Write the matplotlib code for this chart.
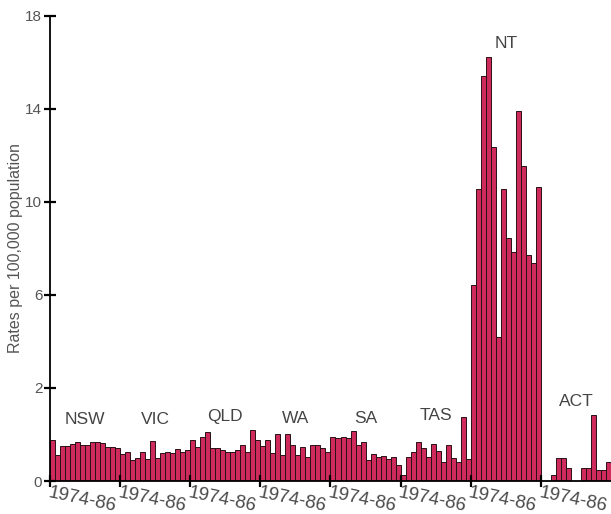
import numpy as np
import matplotlib
matplotlib.use('Agg')
import matplotlib.pyplot as plt

plt.rcParams['font.family'] = ['Liberation Sans', 'DejaVu Sans']

# 各州 1974-86 年的比率（每 10 万人）
states = ['NSW', 'VIC', 'QLD', 'WA', 'SA', 'TAS', 'NT', 'ACT']
nsw = [0.89, 0.56, 0.76, 0.76, 0.79, 0.83, 0.78, 0.77, 0.84, 0.84, 0.81, 0.74, 0.74, 0.72]
vic = [0.59, 0.63, 0.45, 0.49, 0.63, 0.47, 0.85, 0.49, 0.61, 0.63, 0.61, 0.69, 0.63, 0.66]
qld = [0.88, 0.73, 0.94, 1.06, 0.72, 0.70, 0.66, 0.63, 0.63, 0.66, 0.78, 0.63, 1.09, 0.88]
wa = [0.76, 0.88, 0.61, 1.01, 0.56, 1.01, 0.77, 0.56, 0.73, 0.52, 0.77, 0.78, 0.72, 0.63]
sa = [0.94, 0.92, 0.94, 0.93, 1.08, 0.78, 0.84, 0.45, 0.58, 0.52, 0.54, 0.48, 0.52, 0.35]
tas = [0.13, 0.52, 0.63, 0.83, 0.72, 0.52, 0.79, 0.65, 0.41, 0.77, 0.49, 0.40, 1.38, 0.48]
nt = [6.43, 10.56, 15.42, 16.25, 12.38, 4.19, 10.56, 8.45, 7.85, 13.93, 11.55, 7.72, 7.38, 10.65]
act = [0, 0, 0.12, 0.50, 0.49, 0.27, 0, 0, 0.27, 0.27, 1.42, 0.24, 0.24, 0.40]
series = [nsw, vic, qld, wa, sa, tas, nt, act]
period = '1974-86'
yticks = [0, 2, 6, 10, 14, 18]
# 州名标注的高度
label_y = [1.32, 1.32, 1.38, 1.34, 1.34, 1.40, 16.8, 1.70]


# 原图的纵轴刻度间距相同但数值不均匀：0,2,6,10,14,18
def fwd(v):
    v = np.asarray(v, dtype=float)
    return np.where(v < 2, v / 2, 1 + (v - 2) / 4)


def inv(u):
    u = np.asarray(u, dtype=float)
    return np.where(u < 1, 2 * u, 2 + 4 * (u - 1))


fig = plt.figure(figsize=(6.11, 5.14), dpi=100)
ax = fig.add_axes([0.0818, 0.0642, 0.9182, 0.9047])
ax.set_yscale('function', functions=(fwd, inv))

n = len(nsw)
vals = np.concatenate(series)
x = np.arange(len(vals)) + 0.5
ax.bar(x, vals, width=1.0, color='#cf2a5c', edgecolor='#2a1016', linewidth=0.7)

ax.set_xlim(0, len(vals))
ax.set_ylim(0, 18)
ax.set_yticks(yticks)
ax.set_yticklabels([str(t) for t in yticks])

starts = np.arange(len(states)) * n
ax.set_xticks(starts)
ax.set_xticklabels([period] * len(states), rotation=-12, ha='left', va='top',
                   rotation_mode='anchor')

for i, s in enumerate(states):
    ax.text(starts[i] + n / 2, label_y[i], s, ha='center', va='center',
            fontsize=12.5, color='#444444')

ax.spines['top'].set_visible(False)
ax.spines['right'].set_visible(False)
ax.spines['left'].set_linewidth(1.3)
ax.spines['bottom'].set_linewidth(1.3)
ax.tick_params(axis='y', direction='inout', length=9, width=1.6,
               labelsize=11, labelcolor='#555555', pad=1)
ax.tick_params(axis='x', direction='inout', length=8, width=1.6,
               labelsize=13.5, labelcolor='#4a4a4a', pad=-1.5)
ax.set_ylabel('Rates per 100,000 population', fontsize=11.5, color='#555555',
              labelpad=2)

fig.savefig('out.png', dpi=100)
